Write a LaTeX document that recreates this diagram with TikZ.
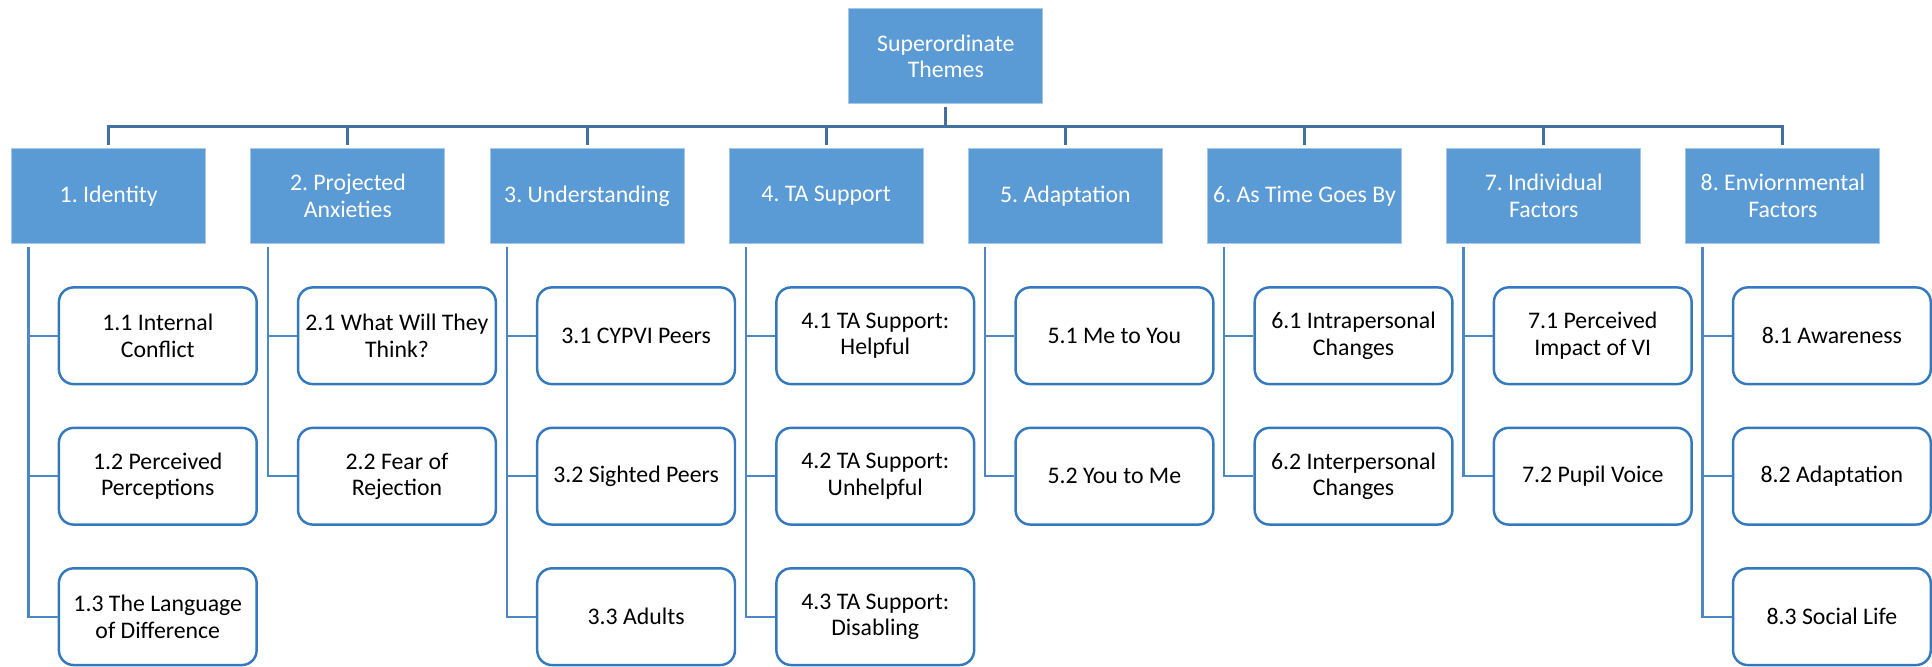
\documentclass[tikz,border=0pt]{standalone}
\usepackage{fontspec}
\setmainfont{Carlito}
\frenchspacing
\newcommand\boxfont{\fontsize{19.3}{21.6}\selectfont}
\definecolor{themefill}{HTML}{5B9BD5}
\definecolor{themeedge}{HTML}{A7C7E7}
\definecolor{busblue}{HTML}{41719C}
\definecolor{subedge}{HTML}{3479BD}
\definecolor{linkblue}{HTML}{4C88C6}
\tikzset{
  theme/.style={rectangle, fill=themefill, draw=themeedge, line width=0.8pt,
    minimum width=157.5pt, minimum height=77pt, inner sep=0pt,
    text=white, align=center, font=\boxfont},
  subbox/.style={rectangle, rounded corners=12pt, draw=subedge, line width=2pt,
    fill=white, minimum width=160.5pt, minimum height=78.5pt, inner sep=0pt,
    text=black, align=center, font=\boxfont},
  bus/.style={draw=busblue, line width=2.4pt},
  link/.style={draw=linkblue, line width=1.8pt},
}
\begin{document}
\begin{tikzpicture}[x=1pt,y=1pt]
\path[use as bounding box] (0,0) rectangle (1568,541);

% root
\node[theme] (top) at (767.6,495.3) {Superordinate\\Themes};

% superordinate themes
\node[theme] (t1) at (88.25,382)   {1. Identity};
\node[theme] (t2) at (282.35,382)  {2. Projected\\Anxieties};
\node[theme] (t3) at (476.45,382)  {3. Understanding};
\node[theme] (t4) at (670.55,382)  {4. TA Support};
\node[theme] (t5) at (864.65,382)  {5. Adaptation};
\node[theme] (t6) at (1058.75,382) {6. As Time Goes By};
\node[theme] (t7) at (1252.85,382) {7. Individual\\Factors};
\node[theme] (t8) at (1446.95,382) {8. Enviornmental\\Factors};

% subthemes
\node[subbox] (s1-1) at (128.05,268.5) {1.1 Internal\\Conflict};
\node[subbox] (s1-2) at (128.05,154.5) {1.2 Perceived\\Perceptions};
\node[subbox] (s1-3) at (128.05,40.5)  {1.3 The Language\\of Difference};

\node[subbox] (s2-1) at (322.15,268.5) {2.1 What Will They\\Think?};
\node[subbox] (s2-2) at (322.15,154.5) {2.2 Fear of\\Rejection};

\node[subbox] (s3-1) at (516.25,268.5) {3.1 CYPVI Peers};
\node[subbox] (s3-2) at (516.25,154.5) {3.2 Sighted Peers};
\node[subbox] (s3-3) at (516.25,40.5)  {3.3 Adults};

\node[subbox] (s4-1) at (710.35,268.5) {4.1 TA Support:\\Helpful};
\node[subbox] (s4-2) at (710.35,154.5) {4.2 TA Support:\\Unhelpful};
\node[subbox] (s4-3) at (710.35,40.5)  {4.3 TA Support:\\Disabling};

\node[subbox] (s5-1) at (904.45,268.5) {5.1 Me to You};
\node[subbox] (s5-2) at (904.45,154.5) {5.2 You to Me};

\node[subbox] (s6-1) at (1098.55,268.5) {6.1 Intrapersonal\\Changes};
\node[subbox] (s6-2) at (1098.55,154.5) {6.2 Interpersonal\\Changes};

\node[subbox] (s7-1) at (1292.65,268.5) {7.1 Perceived\\Impact of VI};
\node[subbox] (s7-2) at (1292.65,154.5) {7.2 Pupil Voice};

\node[subbox] (s8-1) at (1486.75,268.5) {8.1 Awareness};
\node[subbox] (s8-2) at (1486.75,154.5) {8.2 Adaptation};
\node[subbox] (s8-3) at (1486.75,40.5)  {8.3 Social Life};

% bus from the root to every theme
\coordinate (busy) at (0,438.7);
\draw[bus] ([yshift=-2.5pt]top.south) -- (top.south |- busy);
\draw[bus] ([yshift=2.5pt]t1.north) -- (t1.north |- busy) -- (t8.north |- busy) -- ([yshift=2.5pt]t8.north);
\foreach \i in {2,...,7}
  \draw[bus] (t\i.north |- busy) -- ([yshift=2.5pt]t\i.north);

% trunks down the left side of each theme
\foreach \i in {1,...,8}
  \coordinate (v\i) at ([xshift=14pt,yshift=-2.5pt]t\i.south west);

\foreach \i/\last in {1/3,2/2,3/3,4/3,5/2,6/2,7/2,8/3}{
  \draw[link] (v\i) |- (s\i-\last.west);
  \foreach \j in {1,...,\last}
    \draw[link] (v\i |- s\i-\j.west) -- (s\i-\j.west);
}
\end{tikzpicture}
\end{document}
